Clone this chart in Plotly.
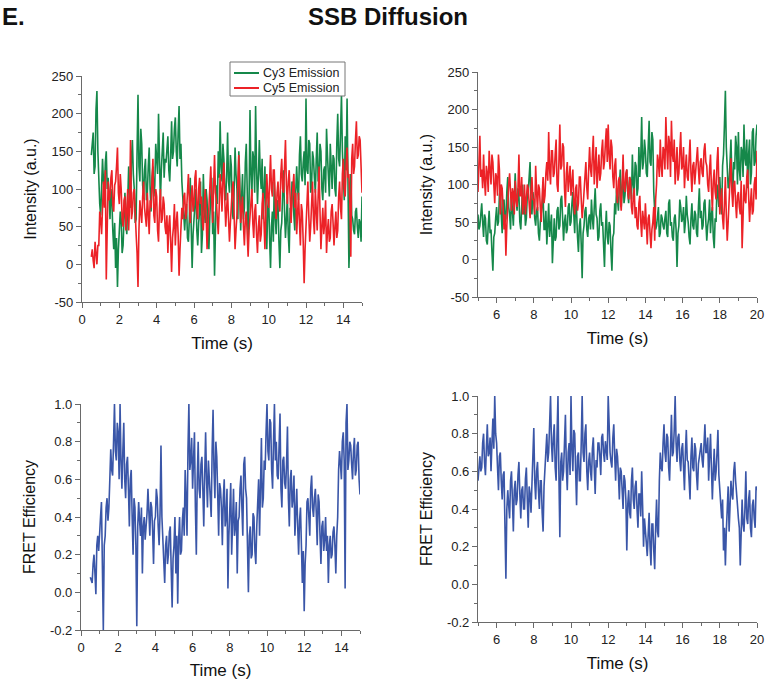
import numpy as np
import plotly.graph_objects as go

# ---------------- data (0.05 s frames) ----------------
t_left_start, t_left_end = 0.5, 15.0
t_right_start, t_right_end = 5.0, 20.0

cy3_left = [
    145, 160, 175, 120, 130, 205, 230, 150, 110, 80, 65, 120, 140, 110, 95, 135, 150, 100, 115, 90,
    60, 100, 85, 45, 20, 55, -5, 35, -30, 20, 45, 70, 60, 15, 25, 80, 95, 55, 40, 85,
    130, 95, 75, 140, 165, 120, 100, 55, 60, 150, 225, 130, 110, 180, 160, 105, 90, 125, 140, 85,
    95, 130, 155, 100, 70, 115, 130, 90, 105, 160, 145, 120, 200, 140, 85, 125, 150, 175, 115, 140,
    135, 155, 170, 125, 110, 145, 190, 140, 150, 180, 195, 150, 130, 175, 210, 140, 160, 110, 90, 65,
    45, 70, 80, 35, 30, 60, 115, 50, -5, 40, 60, 90, 100, 45, 25, 55, 70, 110, 15, 40,
    120, 75, 55, 100, 85, 40, 20, 65, 95, 115, 40, 70, -15, 60, 105, 80, 150, 115, 190, 130,
    110, 160, 140, 95, 85, 120, 175, 110, 95, 145, 130, 70, 60, 100, 155, 120, 100, 60, 150, 115,
    45, 90, 120, 60, 75, 135, 160, 100, 30, 85, 205, 120, 90, 150, 140, 95, 210, 130, 80, 115,
    165, 120, 100, 140, 60, 95, 130, 55, 20, 75, 90, 35, -5, 50, 70, 30, 110, 65, 40, 85,
    80, 30, -5, 45, 55, 95, 125, 70, 35, 60, 90, 40, 15, 75, 60, 110, 100, 65, 45, 95,
    130, 100, 85, 145, 170, 120, 110, 135, 150, 105, 220, 125, 120, 165, 160, 95, 105, 150, 140, 115,
    95, 140, 175, 110, 115, 160, 150, 100, 85, 125, 130, 95, 180, 145, 120, 90, 160, 125, 100, 145,
    140, 100, 90, 160, 200, 140, 130, 175, 225, 150, 110, 85, 170, 125, 220, 60, -5, 40, 120, 65,
    60, 45, 40, 70, 75, 50, 35, 60, 55, 30, 90,
]
cy5_left = [
    10, 20, 5, -5, 30, 10, 0, 25, 25, 70, 60, 40, 95, 110, 75, 125, -20, 60, 110, 85,
    90, 115, 125, 80, 70, 105, 110, 130, 155, 95, 80, 120, 100, 60, 50, 85, 90, 45, 65, 100,
    45, 80, 165, 60, 70, 95, 100, 50, 40, 15, -30, 45, 85, 70, 55, 90, 110, 75, 65, 50,
    95, 70, 40, 85, 75, 110, 140, 65, 55, 100, 90, 45, 30, 75, 100, 55, 60, 90, 80, 50,
    40, 65, 15, 50, 65, 30, -10, 35, 50, 80, 25, 55, 70, 40, -15, 20, 45, 75, 60, 90,
    95, 60, 70, 110, 120, 85, 55, 90, 105, 70, 80, 115, 125, 75, 60, 100, 115, 80, 90, 55,
    45, 80, 100, 65, 20, 50, 75, 110, 130, 90, 55, 100, 145, 95, 85, 60, 40, 75, 120, 100,
    70, 115, 135, 85, 50, 75, 95, 60, 30, 55, 80, 100, 110, 65, 20, 45, 65, 110, 145, 90,
    55, 75, 90, 50, 25, 60, 70, 40, 10, 45, 60, 85, 100, 55, 35, 70, 80, 40, 15, 50,
    65, 30, 40, 80, 95, 55, 20, 70, 120, 90, 75, 110, 145, 100, 90, 125, 125, 85, 60, 95,
    110, 80, 70, 120, 140, 100, 95, 130, 165, 105, 80, 110, 125, 90, 55, 85, 105, 120, 75, 95,
    40, 70, 95, 55, 25, 80, 70, 30, -25, 20, 50, 95, 110, 65, 30, 50, 85, 110, 60, 40,
    100, 65, 45, 90, 130, 70, 20, 50, 75, 40, 55, 85, 15, 45, 60, 30, 35, 70, 80, 55,
    25, 50, 70, 35, 45, 90, 110, 75, 60, 120, 140, 100, 90, 130, 155, 115, 120, 80, 10, 140,
    160, 120, 130, 165, 190, 140, 145, 170, 165, 130, 95,
]
cy3_right = [
    60, 40, 45, 70, 75, 50, 30, 60, 55, 25, 20, 45, 65, 35, 40, 10, -15, 30, 35, 55,
    70, 45, 50, 85, 95, 60, 35, 75, 80, 50, 55, 90, 110, 70, 60, 40, 90, 65, 45, 80,
    115, 80, 65, 95, 85, 50, 40, 70, 100, 60, 75, 45, 55, 85, 90, 110, 130, 75, 60, 90,
    80, 55, 45, 65, 70, 35, 25, 50, 60, 75, 85, 40, 40, 65, 20, 45, 75, 30, 50, 60,
    -5, 35, 55, 25, 30, 65, 70, 40, 45, 80, 85, 55, 25, 50, 60, 35, 40, 70, 75, 45,
    50, 75, 90, 60, 35, 80, 65, 30, 10, 45, 55, 20, -25, 35, 45, 65, 70, 40, 30, 55,
    60, 40, 80, 55, 40, 70, 95, 60, 55, 25, 30, 65, 75, 45, 50, 20, -10, 40, 65, 30,
    20, 50, 45, 10, -15, 30, 35, 75, 60, 95, 80, 65, 100, 120, 70, 90, 115, 75, 85, 105,
    120, 90, 75, 110, 105, 80, 140, 100, 90, 130, 125, 85, 95, 150, 110, 135, 190, 120, 130, 160,
    145, 115, 110, 150, 185, 130, 125, 170, 160, 90, 60, 40, 45, 65, 70, 30, 35, 60, 55, 45,
    40, 55, 65, 35, 30, 75, 80, 45, 50, 30, 25, 55, 60, 40, -10, 35, 45, 80, 70, 50,
    55, 70, 35, 50, 85, 60, 50, 30, 20, 55, 75, 45, 40, 65, 60, 35, 30, 70, 95, 55,
    65, 40, 45, 75, 80, 50, 25, 45, 55, 80, 35, 60, 70, 30, 15, 55, 50, 100, 90, 70,
    110, 80, 60, 125, 140, 180, 225, 150, 130, 95, 100, 140, 160, 110, 85, 130, 120, 165, 150, 100,
    170, 120, 105, 150, 145, 110, 180, 135, 125, 160, 95, 140, 160, 100, 115, 170, 175, 125, 130, 165,
    180,
]
cy5_right = [
    90, 130, 165, 110, 120, 95, 140, 105, 85, 125, 115, 90, 145, 120, 100, 140, 130, 100, 75, 115,
    110, 85, 140, 120, 60, 100, 95, 70, 40, 60, 5, 45, 80, 100, 115, 75, 65, 95, 90, 60,
    105, 80, 70, 95, 140, 85, 85, 110, 60, 75, 100, 60, 75, 100, 95, 65, 55, 90, 110, 80,
    80, 60, 125, 90, 65, 100, 95, 70, 50, 85, 110, 75, 85, 115, 130, 105, 170, 120, 100, 145,
    145, 110, 115, 140, 160, 100, 90, 130, 180, 120, 125, 155, 150, 95, 70, 115, 130, 90, 105, 125,
    85, 105, 120, 75, 60, 95, 100, 65, 75, 110, 110, 80, 55, 70, 90, 115, 130, 95, 80, 120,
    150, 120, 110, 140, 165, 100, 125, 150, 95, 130, 140, 105, 115, 145, 160, 120, 130, 155, 175, 130,
    180, 140, 120, 160, 150, 110, 95, 125, 135, 90, 75, 105, 110, 80, 65, 100, 140, 95, 90, 115,
    120, 90, 80, 110, 105, 70, 60, 85, 95, 55, 70, 45, 40, 75, 85, 50, 30, 65, 55, 40,
    75, 45, 20, 55, 60, 35, 15, 40, 50, 70, 25, 80, 100, 140, 130, 110, 160, 125, 110, 150,
    145, 120, 190, 150, 120, 165, 155, 110, 185, 140, 130, 160, 100, 125, 150, 105, 115, 145, 170, 120,
    125, 150, 95, 120, 140, 110, 105, 135, 160, 115, 90, 125, 130, 100, 115, 140, 150, 120, 100, 130,
    135, 115, 110, 145, 155, 130, 125, 100, 90, 120, 140, 95, 65, 105, 120, 90, 80, 130, 150, 100,
    60, 80, 95, 55, 40, 75, 110, 60, 25, 50, 85, 110, 135, 90, 70, 100, 105, 75, 55, 85,
    90, 70, 60, 105, 15, 55, 100, 80, 75, 110, 120, 85, 50, 75, 95, 60, 65, 100, 110, 80,
    145,
]
fret_left = [
    0.08, 0.06, 0.05, 0.15, 0.20, 0.10, -0.01, 0.25, 0.30, 0.22, 0.35, 0.40, 0.48, 0.10, -0.20, 0.25, 0.30, 0.45, 0.50, 0.38,
    0.45, 0.60, 0.76, 0.65, 0.62, 0.80, 1.00, 0.75, 0.70, 0.90, 0.85, 0.60, 1.00, 0.70, 0.55, 0.75, 0.90, 0.60, 0.50, 0.68,
    0.72, 0.55, 0.35, 0.60, 0.65, 0.40, 0.20, 0.50, 0.45, 0.25, -0.18, 0.35, 0.48, 0.38, 0.30, 0.45, 0.10, 0.35, 0.40, 0.28,
    0.35, 0.42, 0.55, 0.38, 0.30, 0.48, 0.45, 0.33, 0.15, 0.38, 0.40, 0.55, 0.50, 0.35, 0.25, 0.42, 0.78, 0.40, 0.30, 0.20,
    0.05, 0.25, 0.30, 0.15, 0.20, 0.32, 0.35, 0.12, -0.08, 0.18, 0.25, 0.40, 0.10, 0.30, -0.06, 0.28, 0.40, 0.20, 0.22, 0.38,
    0.45, 0.30, 0.65, 0.50, 0.30, 0.75, 1.00, 0.65, 0.70, 0.82, 0.55, 0.70, 0.85, 0.45, 0.20, 0.60, 0.80, 0.55, 0.50, 0.68,
    0.72, 0.55, 0.35, 0.62, 0.85, 0.60, 0.45, 0.70, 0.60, 0.48, 0.40, 0.75, 0.97, 0.65, 0.50, 0.80, 0.72, 0.52, 0.30, 0.58,
    0.55, 0.45, 0.25, 0.50, 0.60, 0.35, 0.40, 0.55, 0.02, 0.30, 0.45, 0.58, 0.20, 0.42, 0.55, 0.30, 0.35, 0.48, 0.10, 0.38,
    0.40, 0.55, 0.62, 0.45, 0.30, 0.68, 0.72, 0.55, 0.50, 0.25, 0.00, 0.30, 0.35, 0.18, 0.20, 0.42, 0.40, 0.22, 0.15, 0.35,
    0.45, 0.60, 0.30, 0.55, 0.82, 0.45, 0.50, 0.70, 0.65, 0.85, 1.00, 0.75, 0.70, 0.92, 0.90, 0.65, 0.55, 0.80, 1.00, 0.70,
    0.80, 0.62, 0.60, 0.78, 0.95, 0.55, 0.45, 0.70, 0.72, 0.58, 0.55, 0.68, 0.88, 0.50, 0.35, 0.60, 0.65, 0.45, 0.50, 0.62,
    0.30, 0.42, 0.55, 0.35, 0.20, 0.38, 0.45, 0.25, 0.05, 0.22, -0.10, 0.15, 0.25, 0.48, 0.50, 0.40, 0.30, 0.55, 0.62, 0.45,
    0.40, 0.50, 0.55, 0.42, 0.25, 0.52, 0.48, 0.30, 0.15, 0.35, 0.38, 0.22, 0.28, 0.40, 0.22, 0.30, 0.05, 0.25, 0.30, 0.18,
    0.20, 0.32, 0.35, 0.25, 0.10, 0.30, 0.40, 0.65, 0.75, 0.68, 0.60, 0.80, 0.85, 0.70, 0.02, 0.90, 1.00, 0.65, 0.70, 0.80,
    0.78, 0.68, 0.60, 0.75, 0.82, 0.62, 0.65, 0.78, 0.80, 0.60, 0.52,
]
fret_right = [
    0.55, 0.65, 0.68, 0.60, 0.62, 0.75, 0.80, 0.65, 0.58, 0.72, 0.85, 0.68, 0.70, 0.78, 0.60, 0.75, 0.88, 0.72, 1.00, 0.80,
    0.75, 0.62, 0.50, 0.68, 0.70, 0.55, 0.45, 0.58, 0.60, 0.30, 0.03, 0.40, 0.50, 0.42, 0.35, 0.55, 0.60, 0.45, 0.28, 0.50,
    0.55, 0.42, 0.45, 0.58, 0.65, 0.48, 0.35, 0.50, 0.52, 0.40, 0.40, 0.56, 0.62, 0.45, 0.30, 0.52, 0.48, 0.38, 0.55, 0.62,
    0.83, 0.55, 0.45, 0.60, 0.65, 0.50, 0.40, 0.55, 0.55, 0.38, 0.28, 0.52, 0.62, 0.70, 0.80, 0.65, 0.70, 0.85, 1.00, 0.75,
    0.65, 0.78, 0.85, 0.62, 0.55, 0.80, 1.00, 0.58, 0.25, 0.65, 0.70, 0.55, 0.60, 0.75, 0.90, 0.62, 0.50, 0.70, 0.75, 0.58,
    1.00, 0.72, 0.60, 0.82, 0.80, 0.60, 0.42, 0.68, 0.70, 0.55, 0.55, 0.75, 1.00, 0.70, 0.65, 0.80, 0.85, 0.60, 0.50, 0.65,
    0.70, 0.60, 0.55, 0.72, 0.78, 0.62, 0.48, 0.66, 0.62, 0.75, 0.75, 0.68, 0.58, 0.78, 0.80, 0.70, 0.65, 0.76, 0.72, 0.66,
    1.00, 0.75, 0.70, 0.65, 0.62, 0.78, 0.85, 0.68, 0.55, 0.72, 0.68, 0.58, 0.45, 0.62, 0.60, 0.50, 0.40, 0.58, 0.55, 0.45,
    0.18, 0.42, 0.50, 0.38, 0.35, 0.55, 0.62, 0.45, 0.40, 0.52, 0.55, 0.40, 0.30, 0.48, 0.48, 0.36, 0.60, 0.42, 0.20, 0.35,
    0.30, 0.22, 0.15, 0.28, 0.38, 0.20, 0.10, 0.32, 0.32, 0.18, 0.08, 0.30, 0.45, 0.28, 0.25, 0.55, 0.70, 0.62, 0.60, 0.75,
    0.85, 0.70, 0.65, 0.80, 0.78, 0.62, 0.55, 0.72, 0.90, 0.68, 0.70, 0.82, 1.00, 0.75, 0.65, 0.78, 0.80, 0.66, 0.60, 0.72,
    0.75, 0.62, 0.50, 0.70, 0.82, 0.66, 0.65, 0.55, 0.45, 0.68, 0.78, 0.62, 0.60, 0.75, 0.72, 0.58, 0.50, 0.64, 0.68, 0.72,
    0.75, 0.66, 0.62, 0.74, 0.85, 0.70, 0.70, 0.78, 0.55, 0.68, 0.80, 0.62, 0.45, 0.60, 0.72, 0.55, 0.60, 0.70, 0.82, 0.58,
    0.50, 0.40, 0.35, 0.45, 0.18, 0.30, 0.10, 0.28, 0.40, 0.52, 0.28, 0.45, 0.55, 0.48, 0.45, 0.60, 0.65, 0.55, 0.50, 0.42,
    0.35, 0.30, 0.10, 0.38, 0.45, 0.32, 0.28, 0.40, 0.60, 0.35, 0.32, 0.45, 0.50, 0.30, 0.25, 0.42, 0.45, 0.35, 0.30, 0.52,
    0.50,
]

series_names = ["Cy3 Emission", "Cy5 Emission"]
intensity_ticks = [-50, 0, 50, 100, 150, 200, 250]
intensity_labels = ["-50", "0", "50", "100", "150", "200", "250"]
fret_ticks = [-0.2, 0.0, 0.2, 0.4, 0.6, 0.8, 1.0]
fret_labels = ["-0.2", "0.0", "0.2", "0.4", "0.6", "0.8", "1.0"]

t_left = np.linspace(t_left_start, t_left_end, len(cy3_left))
t_right = np.linspace(t_right_start, t_right_end, len(cy3_right))
t_fret_left = np.linspace(t_left_start, t_left_end, len(fret_left))
t_fret_right = np.linspace(t_right_start, t_right_end, len(fret_right))

GREEN = "#15884a"
RED = "#ec2227"
BLUE = "#3a56a8"
AXIS = "#6a6a6a"
FONT = "Liberation Sans, Arial, sans-serif"
LW = 1.6

fig = go.Figure()
fig.add_trace(go.Scatter(x=t_left, y=cy3_left, mode="lines", name=series_names[0],
                         line=dict(color=GREEN, width=LW), xaxis="x", yaxis="y"))
fig.add_trace(go.Scatter(x=t_left, y=cy5_left, mode="lines", name=series_names[1],
                         line=dict(color=RED, width=LW), xaxis="x", yaxis="y"))
fig.add_trace(go.Scatter(x=t_right, y=cy3_right, mode="lines", name=series_names[0],
                         line=dict(color=GREEN, width=LW), xaxis="x2", yaxis="y2"))
fig.add_trace(go.Scatter(x=t_right, y=cy5_right, mode="lines", name=series_names[1],
                         line=dict(color=RED, width=LW), xaxis="x2", yaxis="y2"))
fig.add_trace(go.Scatter(x=t_fret_left, y=fret_left, mode="lines", name="FRET",
                         line=dict(color=BLUE, width=LW), xaxis="x3", yaxis="y3"))
fig.add_trace(go.Scatter(x=t_fret_right, y=fret_right, mode="lines", name="FRET",
                         line=dict(color=BLUE, width=LW), xaxis="x4", yaxis="y4"))

W, H = 766, 680


def px_x(p):
    return p / W


def px_y(p):
    return 1 - p / H


def xaxis(domain, rng, anchor):
    return dict(domain=domain, range=rng, dtick=2, tick0=0, anchor=anchor, automargin=False,
                showline=True, linecolor=AXIS, linewidth=1.2,
                ticks="outside", ticklen=5, tickwidth=1.2, tickcolor=AXIS,
                minor=dict(ticks="outside", ticklen=3, tickcolor=AXIS, tickwidth=1, dtick=1, tick0=0),
                showgrid=False, zeroline=False, ticklabeloverflow="allow",
                tickfont=dict(size=13, color="#222", family=FONT),
                title=dict(text="Time (s)", font=dict(size=17, color="#111", family=FONT), standoff=11))


def yaxis(domain, rng, vals, labels, minor_step, anchor, title):
    return dict(domain=domain, range=rng, tickmode="array", tickvals=vals, ticktext=labels,
                anchor=anchor, automargin=False,
                showline=True, linecolor=AXIS, linewidth=1.2,
                ticks="outside", ticklen=5, tickwidth=1.2, tickcolor=AXIS,
                minor=dict(ticks="outside", ticklen=3, tickcolor=AXIS, tickwidth=1,
                           tickmode="linear", dtick=minor_step, tick0=vals[0]),
                showgrid=False, zeroline=False, ticklabeloverflow="allow",
                tickfont=dict(size=13, color="#222", family=FONT),
                title=dict(text=title, font=dict(size=16, color="#111", family=FONT), standoff=10))


# compact boxed legend in the top-left panel (paper coordinates)
LEG_X0, LEG_X1, LEG_Y0, LEG_Y1 = 230, 345, 62, 96
leg_rows = [73, 88]
leg_colors = [GREEN, RED]
shapes = [dict(type="rect", xref="paper", yref="paper",
               x0=px_x(LEG_X0), x1=px_x(LEG_X1), y0=px_y(LEG_Y1), y1=px_y(LEG_Y0),
               line=dict(color="#777", width=1), fillcolor="rgba(255,255,255,0.92)", layer="above")]
annotations = []
for name, col, ry in zip(series_names, leg_colors, leg_rows):
    shapes.append(dict(type="line", xref="paper", yref="paper",
                       x0=px_x(234), x1=px_x(259), y0=px_y(ry), y1=px_y(ry),
                       line=dict(color=col, width=2), layer="above"))
    annotations.append(dict(text=name, x=px_x(261), y=px_y(ry), xref="paper", yref="paper",
                            showarrow=False, xanchor="left", yanchor="middle",
                            font=dict(size=12.5, color="#222", family=FONT)))

annotations += [
    dict(text="<b>SSB Diffusion</b>", x=px_x(388), y=px_y(16), xref="paper", yref="paper",
         showarrow=False, font=dict(size=24, color="#111", family=FONT),
         xanchor="center", yanchor="middle"),
    dict(text="<b>E.</b>", x=0.0, y=px_y(16), xref="paper", yref="paper",
         showarrow=False, font=dict(size=24, color="#111", family=FONT),
         xanchor="left", yanchor="middle"),
]

fig.update_layout(
    width=W, height=H,
    margin=dict(l=0, r=0, t=0, b=0, autoexpand=False),
    paper_bgcolor="white", plot_bgcolor="white",
    font=dict(family=FONT),
    showlegend=False,
    xaxis=xaxis([px_x(82), px_x(362)], [0, 15], "y"),
    yaxis=yaxis([px_y(302), px_y(76)], [-50, 250], intensity_ticks, intensity_labels, 25, "x",
                "Intensity (a.u.)"),
    xaxis2=xaxis([px_x(478), px_x(757)], [5, 20], "y2"),
    yaxis2=yaxis([px_y(297), px_y(72)], [-50, 250], intensity_ticks, intensity_labels, 25, "x2",
                 "Intensity (a.u.)"),
    xaxis3=xaxis([px_x(81), px_x(360)], [0, 15], "y3"),
    yaxis3=yaxis([px_y(630), px_y(404)], [-0.2, 1.0], fret_ticks, fret_labels, 0.1, "x3",
                 "FRET Efficiency"),
    xaxis4=xaxis([px_x(478), px_x(757)], [5, 20], "y4"),
    yaxis4=yaxis([px_y(622), px_y(396)], [-0.2, 1.0], fret_ticks, fret_labels, 0.1, "x4",
                 "FRET Efficiency"),
    shapes=shapes,
    annotations=annotations,
)

fig.write_html(
    "out.html",
    config={"displayModeBar": False},
    post_script="document.body.style.margin='0';document.body.style.padding='0';"
                "document.body.style.overflow='hidden';",
)
